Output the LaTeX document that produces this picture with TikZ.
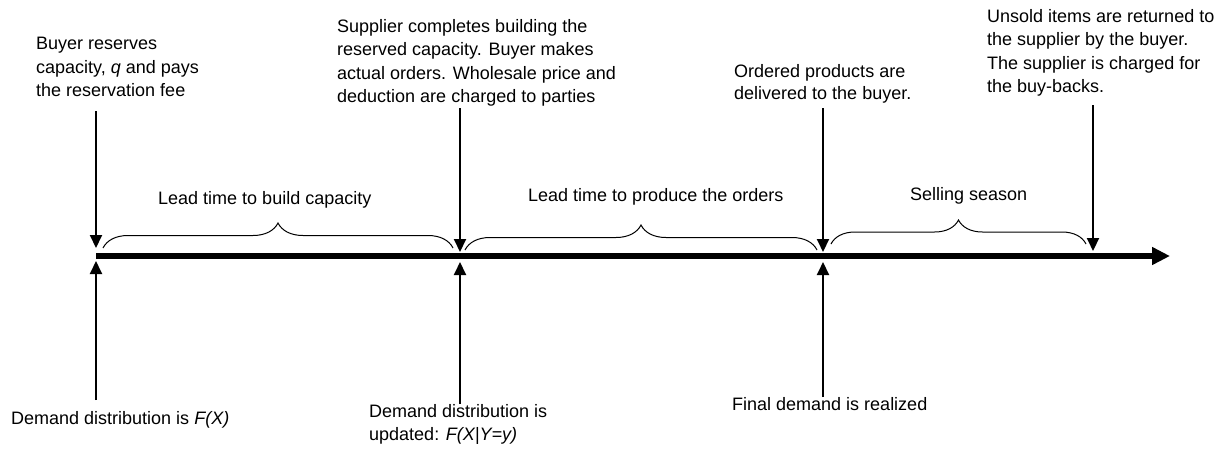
\documentclass[tikz,border=0pt]{standalone}
\usepackage{fontspec}
\setmainfont{Liberation Sans}
\usetikzlibrary{arrows.meta,decorations.pathreplacing}
\begin{document}
\begin{tikzpicture}[x=1pt,y=-1pt,
  txt/.style={inner sep=0pt, anchor=north west, align=left, font=\fontsize{18}{23.5}\selectfont},
  lbl/.style={inner sep=0pt, anchor=base west, font=\fontsize{18}{24}\selectfont},
  evt/.style={line width=2pt, -{Triangle[length=13pt,width=12pt]}},
  brc/.style={decorate, decoration={brace, amplitude=25pt}, line width=1pt},
  axisline/.style={line width=6.5pt, -{Triangle[length=18pt,width=17pt]}}
]
\useasboundingbox (0,0) rectangle (1231,448);
\fill[white] (0,0) rectangle (1231,448);

% timeline
\coordinate (ax0) at (96,256);
\coordinate (ax1) at (1170,256);
\draw[axisline] (ax0) -- (ax1);

% top texts
\node[txt] (buyer) at (36,37) {Buyer reserves\\capacity, \textit{q} and pays\\the reservation fee};
\node[txt] (supp) at (337,19) {Supplier completes building the\\reserved capacity. Buyer makes\\actual orders. Wholesale price and\\deduction are charged to parties};
\node[txt, font=\fontsize{18}{22.5}\selectfont] (order) at (734,64) {Ordered products are\\delivered to the buyer.};
\node[txt] (unsold) at (987,9) {Unsold items are returned to\\the supplier by the buyer.\\The supplier is charged for\\the buy-backs.};

% period labels
\node[lbl] (lt1) at (158,204) {Lead time to build capacity};
\node[lbl] (lt2) at (528,201) {Lead time to produce the orders};
\node[lbl] (sell) at (910,200) {Selling season};

% bottom texts
\node[lbl] (dem1) at (11,424) {Demand distribution is \textit{F(X)}};
\node[txt, font=\fontsize{18}{23}\selectfont] (dem2) at (369,404) {Demand distribution is\\updated: \textit{F(X|Y=y)}};
\node[lbl] (final) at (732,410) {Final demand is realized};

% arrow end points
\coordinate (a1s) at (96,111);  \coordinate (a1e) at (96,248);
\coordinate (b1s) at (96,400);  \coordinate (b1e) at (96,261);
\coordinate (a2s) at (460,108); \coordinate (a2e) at (460,252);
\coordinate (b2s) at (460,404); \coordinate (b2e) at (460,262);
\coordinate (a3s) at (823,108); \coordinate (a3e) at (823,252);
\coordinate (b3s) at (823,397); \coordinate (b3e) at (823,262);
\coordinate (a4s) at (1093,105); \coordinate (a4e) at (1093,251);

\draw[evt] (a1s) -- (a1e);
\draw[evt] (b1s) -- (b1e);
\draw[evt] (a2s) -- (a2e);
\draw[evt] (b2s) -- (b2e);
\draw[evt] (a3s) -- (a3e);
\draw[evt] (b3s) -- (b3e);
\draw[evt] (a4s) -- (a4e);

% braces
\coordinate (c1l) at (103,248); \coordinate (c1r) at (453,248);
\coordinate (c2l) at (465,250); \coordinate (c2r) at (817,250);
\coordinate (c3l) at (831,244); \coordinate (c3r) at (1086,244);
\draw[brc] (c1l) -- (c1r);
\draw[brc] (c2l) -- (c2r);
\draw[brc, decoration={brace, amplitude=24pt}] (c3l) -- (c3r);
\end{tikzpicture}
\end{document}
